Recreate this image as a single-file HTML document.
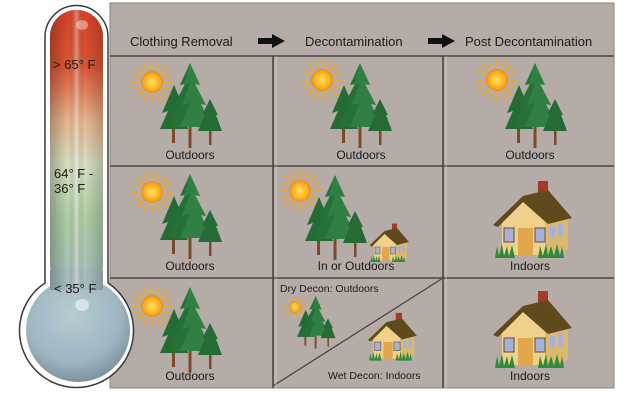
<!DOCTYPE html>
<html><head><meta charset="utf-8"><style>
html,body{margin:0;padding:0;background:#fff;}
svg{display:block;font-family:"Liberation Sans",Arial,sans-serif;}
</style></head><body>
<svg width="632" height="403" viewBox="0 0 632 403" xmlns="http://www.w3.org/2000/svg">
<defs>
<linearGradient id="therm" x1="0" y1="0" x2="0" y2="1">
<stop offset="0" stop-color="#d8422a"/>
<stop offset="0.2" stop-color="#dd5632"/>
<stop offset="0.4" stop-color="#e8b890"/>
<stop offset="0.55" stop-color="#d6e2c2"/>
<stop offset="0.75" stop-color="#aed0a4"/>
<stop offset="1" stop-color="#a6bec2"/>
</linearGradient>
<linearGradient id="tubeShade" x1="0" y1="0" x2="1" y2="0">
<stop offset="0" stop-color="#000" stop-opacity="0.25"/>
<stop offset="0.35" stop-color="#000" stop-opacity="0"/>
<stop offset="0.5" stop-color="#fff" stop-opacity="0.35"/>
<stop offset="0.65" stop-color="#000" stop-opacity="0"/>
<stop offset="1" stop-color="#000" stop-opacity="0.2"/>
</linearGradient>
<radialGradient id="bulb" cx="0.45" cy="0.35" r="0.65">
<stop offset="0" stop-color="#b8ccd2"/>
<stop offset="0.7" stop-color="#9fb6c0"/>
<stop offset="1" stop-color="#7d93a0"/>
</radialGradient>
<radialGradient id="sunG" cx="0.5" cy="0.5" r="0.5">
<stop offset="0" stop-color="#ffe060"/>
<stop offset="0.7" stop-color="#f9b020"/>
<stop offset="1" stop-color="#f08a10"/>
</radialGradient>
<g id="sun">
<g stroke="#f5a623" stroke-width="1.6">
<line x1="13" y1="0" x2="21" y2="0"/><line x1="-13" y1="0" x2="-21" y2="0"/>
<line x1="0" y1="13" x2="0" y2="21"/><line x1="0" y1="-13" x2="0" y2="-21"/>
<line x1="9" y1="9" x2="15" y2="15"/><line x1="-9" y1="9" x2="-15" y2="15"/>
<line x1="9" y1="-9" x2="15" y2="-15"/><line x1="-9" y1="-9" x2="-15" y2="-15"/>
<line x1="12" y1="5" x2="19" y2="8"/><line x1="-12" y1="5" x2="-19" y2="8"/>
<line x1="12" y1="-5" x2="19" y2="-8"/><line x1="-12" y1="-5" x2="-19" y2="-8"/>
<line x1="5" y1="12" x2="8" y2="19"/><line x1="-5" y1="12" x2="-8" y2="19"/>
<line x1="5" y1="-12" x2="8" y2="-19"/><line x1="-5" y1="-12" x2="-8" y2="-19"/>
</g>
<circle r="11" fill="url(#sunG)"/>
</g>
<g id="trees">
<rect x="12" y="60" width="3" height="20" fill="#7a4a2a"/>
<rect x="28.5" y="60" width="3" height="25" fill="#7a4a2a"/>
<rect x="49" y="62" width="2.5" height="20" fill="#7a4a2a"/>
<polygon points="14,22 2,50 8,48 0,66 28,66 22,50 26,50" fill="#256b36"/>
<polygon points="30,0 20,22 25,21 14,42 19,41 8,64 52,64 41,41 46,42 35,21 40,22" fill="#26703a"/>
<polygon points="30,0 24,22 30,20 22,42 30,40 20,64 52,64 41,41 46,42 35,21 40,22" fill="#3c8f4c" opacity="0.5"/>
<polygon points="50,36 42,52 45,52 38,68 62,68 56,52 58,52" fill="#256b36"/>
</g>
<g id="house">
<rect x="48" y="3" width="10" height="22" fill="#a33a2a"/>
<polygon points="12,44 33,22 55,44 55,77 12,77" fill="#f0d08a"/>
<polygon points="55,44 78,38 78,72 55,77" fill="#d9b870"/>
<polygon points="3,47 33,18 58,12 82,40 58,46 33,24 8,49" fill="#5e4a1c"/>
<rect x="28" y="50" width="15" height="27" fill="#e0a84a"/>
<rect x="14" y="50" width="10" height="14" fill="#a8b0d8" stroke="#5a5040" stroke-width="1"/>
<rect x="45" y="50" width="10" height="14" fill="#a8b0d8" stroke="#5a5040" stroke-width="1"/>
<rect x="60" y="48" width="5" height="12" fill="#a8b0d8"/>
<rect x="68" y="46" width="5" height="12" fill="#a8b0d8"/>
<path d="M5,80 L7,68 L9,78 L12,66 L14,78 L17,68 L19,78 L22,67 L25,80 Z" fill="#2f8a3a"/>
<path d="M48,80 L50,68 L53,78 L56,66 L58,78 L61,68 L64,78 L67,66 L70,78 L72,68 L74,80 Z" fill="#2f8a3a"/>
</g>
</defs>

<!-- panel -->
<rect x="110" y="3" width="504" height="385" fill="#b5aca7"/>
<rect x="110" y="3" width="504" height="385" fill="none" stroke="#8a817c" stroke-width="1"/>
<g stroke="#4a4442" stroke-width="1.6">
<line x1="110" y1="56" x2="614" y2="56"/>
<line x1="110" y1="166" x2="614" y2="166"/>
<line x1="110" y1="278" x2="614" y2="278"/>
<line x1="273" y1="56" x2="273" y2="388"/>
<line x1="443" y1="56" x2="443" y2="388"/>
<line x1="273" y1="386" x2="443" y2="278" stroke-width="1.3"/>
</g>
<g stroke="#e0dad6" stroke-width="0.8" opacity="0.7">
<line x1="276" y1="56" x2="276" y2="388"/><line x1="446" y1="56" x2="446" y2="388"/>
</g>

<!-- header -->
<g font-size="13" fill="#1a1a1a">
<text x="130" y="46">Clothing Removal</text>
<text x="305" y="46">Decontamination</text>
<text x="465" y="46">Post Decontamination</text>
</g>
<polygon points="258,38 272,38 272,34 285,41 272,48 272,44 258,44" fill="#111"/>
<polygon points="428,38 442,38 442,34 455,41 442,48 442,44 428,44" fill="#111"/>

<!-- row 1 -->
<use href="#sun" x="152" y="82"/><use href="#trees" x="160" y="63"/>
<use href="#sun" x="322" y="80"/><use href="#trees" x="330" y="63"/>
<use href="#sun" x="497" y="80"/><use href="#trees" x="505" y="63"/>
<!-- row 2 -->
<use href="#sun" x="152" y="192"/><use href="#trees" x="160" y="174"/>
<use href="#sun" x="300" y="191"/><use href="#trees" x="305" y="175"/>
<g transform="translate(368,222) scale(0.5)"><use href="#house"/></g>
<use href="#house" x="490" y="178"/>
<!-- row 3 -->
<use href="#sun" x="152" y="306"/><use href="#trees" x="160" y="287"/>
<g transform="translate(295,307) scale(0.55)"><use href="#sun"/></g>
<g transform="translate(297,296) scale(0.62)"><use href="#trees"/></g>
<g transform="translate(366,311) scale(0.62)"><use href="#house"/></g>
<use href="#house" x="490" y="288"/>

<g font-size="12" fill="#1a1a1a" text-anchor="middle">
<text x="190" y="159">Outdoors</text>
<text x="361" y="159">Outdoors</text>
<text x="530" y="159">Outdoors</text>
<text x="190" y="270">Outdoors</text>
<text x="356" y="270">In or Outdoors</text>
<text x="530" y="270">Indoors</text>
<text x="190" y="380">Outdoors</text>
<text x="530" y="380">Indoors</text>
</g>
<g font-size="10.5" fill="#1a1a1a">
<text x="280" y="292">Dry Decon: Outdoors</text>
<text x="328" y="379">Wet Decon: Indoors</text>
</g>

<!-- thermometer -->
<path d="M45,37 A31.5,31.5 0 0 1 108,37 L108,283 A57,57 0 1 1 45,283 Z" fill="#fff" stroke="#3a3a3a" stroke-width="1.5"/>
<rect x="50" y="10" width="53" height="280" rx="26" fill="url(#therm)"/>
<rect x="50" y="10" width="53" height="280" rx="26" fill="url(#tubeShade)"/>
<circle cx="78" cy="330" r="52" fill="url(#bulb)"/>
<rect x="50" y="270" width="53" height="20" fill="#a6bec2"/>
<rect x="50" y="270" width="53" height="20" fill="url(#tubeShade)"/>
<ellipse cx="82" cy="305" rx="7" ry="6" fill="#fff" opacity="0.5"/>
<ellipse cx="82" cy="25" rx="6" ry="5" fill="#fff" opacity="0.4"/>
<g font-size="13" fill="#1a1a1a">
<text x="53" y="69">&gt; 65° F</text>
<text x="54" y="178">64° F -</text>
<text x="54" y="193">36° F</text>
<text x="54" y="293">&lt; 35° F</text>
</g>
</svg>
</body></html>
